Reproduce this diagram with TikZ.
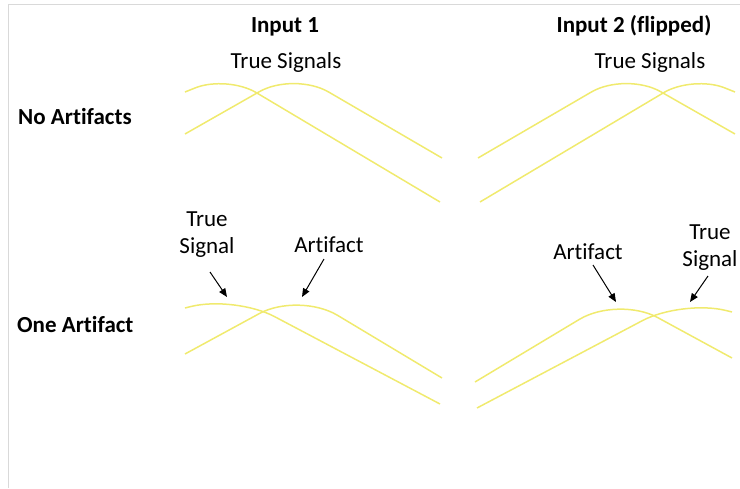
\documentclass[tikz,border=0pt]{standalone}
\usepackage{fontspec}
\setmainfont{Carlito}[Ligatures={NoCommon}]
\usetikzlibrary{arrows.meta}
\definecolor{sig}{RGB}{240,234,110}
\definecolor{framegray}{RGB}{217,217,217}
\tikzset{
  sigline/.style={draw=sig, line width=1.5pt},
  lbl/.style={font=\fontsize{23}{27}\selectfont, inner sep=0pt},
  hdr/.style={inner sep=0pt, font=\fontsize{23}{27}\selectfont\bfseries},
  pointer/.style={draw=black, line width=1pt, -{Triangle[length=8.5pt,width=7pt]}},
}
\newcommand{\sigpairtop}{%
  \draw[sigline, rounded corners=34pt] (185,92) -- (227,75.2) -- (440,202);
  \draw[sigline, rounded corners=40pt] (185,134) -- (294.1,71.9) -- (442,158);
}
\newcommand{\sigpairbottom}{%
  \draw[sigline, rounded corners=45pt] (185,308) -- (234.8,295.6) -- (440,404);
  \draw[sigline, rounded corners=45pt] (185,354) -- (298.8,292.1) -- (442,378);
}
\begin{document}
\begin{tikzpicture}[x=1pt,y=-1pt]
\useasboundingbox (0,0) rectangle (740,488);
% frame
\draw[framegray, line width=0.8pt] (8,488) -- (8,4.3) -- (740,4.3);

% headers
\node[hdr, anchor=base] (in1) at (285,32) {Input 1};
\node[hdr, anchor=base] (in2) at (634,32) {Input 2 (flipped)};
\node[hdr, anchor=base west] (noart) at (18,124) {No Artifacts};
\node[hdr, anchor=base west] (oneart) at (17,332) {One Artifact};

% top row labels
\node[lbl, anchor=base] (tsig1) at (286,68) {True Signals};
\node[lbl, anchor=base] (tsig2) at (650,68) {True Signals};

% curves
\sigpairtop
\begin{scope}[shift={(920,0)}, xscale=-1]
  \sigpairtop
\end{scope}
\sigpairbottom
\begin{scope}[shift={(917,4)}, xscale=-1]
  \sigpairbottom
\end{scope}

% bottom row labels
\node[lbl, align=center] (tsL) at (207,235) {True\\Signal};
\node[lbl, anchor=base] (artL) at (329,252) {Artifact};
\node[lbl, anchor=base] (artR) at (588,259) {Artifact};
\node[lbl, align=center] (tsR) at (710,248) {True\\Signal};

% arrows
\coordinate (tsLtail) at (210,272);
\coordinate (tsLtip) at (227,297);
\coordinate (artLtail) at (324,259);
\coordinate (artLtip) at (302,297);
\coordinate (artRtail) at (593,265);
\coordinate (artRtip) at (616,302);
\coordinate (tsRtail) at (708,276);
\coordinate (tsRtip) at (690,302);
\draw[pointer] (tsLtail) -- (tsLtip);
\draw[pointer] (artLtail) -- (artLtip);
\draw[pointer] (artRtail) -- (artRtip);
\draw[pointer] (tsRtail) -- (tsRtip);
\end{tikzpicture}
\end{document}
